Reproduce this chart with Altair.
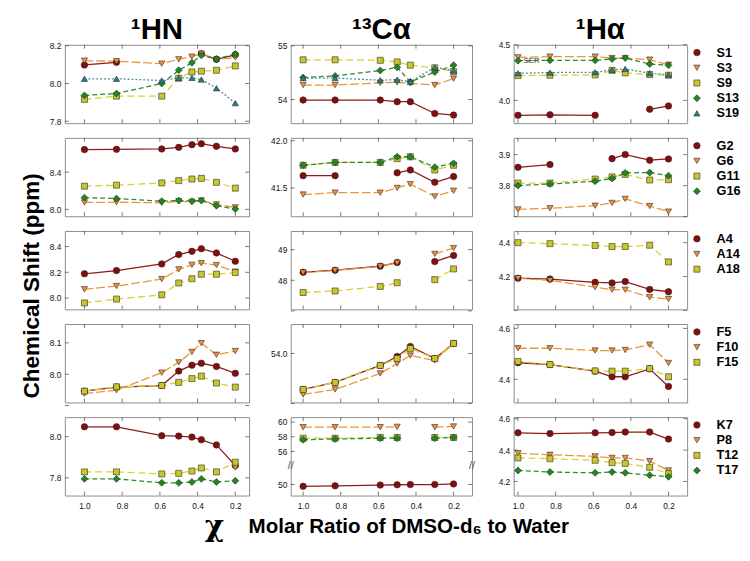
import altair as alt
import pandas as pd

# ---------------- x positions (molar ratio) ----------------
X_HN = [1.0, 0.83, 0.59, 0.50, 0.43, 0.38, 0.30, 0.20]
X_CA = [1.0, 0.83, 0.59, 0.50, 0.43, 0.30, 0.20]
X_HA = [1.0, 0.83, 0.59, 0.50, 0.43, 0.30, 0.20]
X_TICKS = [1.0, 0.8, 0.6, 0.4, 0.2]

# ---------------- Row 1: Ser ----------------
SER = ["S1", "S3", "S9", "S13", "S19"]
HN_SER = [
    [8.098, 8.112, None, None, None, 8.157, 8.128, 8.152],
    [8.121, 8.118, 8.105, 8.128, 8.142, 8.158, 8.126, 8.138],
    [7.916, 7.933, 7.933, 8.028, 8.061, 8.065, 8.070, 8.093],
    [7.937, 7.947, 8.000, 8.070, 8.110, 8.149, 8.130, 8.156],
    [8.025, 8.025, 8.016, 8.030, 8.030, 8.021, 7.975, 7.896],
]
CA_SER = [
    [53.99, 53.99, 53.99, 53.96, 53.96, 53.74, 53.71],
    [54.27, 54.27, 54.31, 54.32, 54.30, 54.27, 54.39],
    [54.74, 54.74, 54.73, 54.70, 54.64, 54.59, 54.52],
    [54.41, 54.44, 54.54, 54.60, 54.33, 54.51, 54.64],
    [54.40, 54.40, 54.36, 54.37, 54.33, 54.60, 54.54],
]
HA_SER = [
    [3.866, 3.870, 3.866, None, None, 3.920, 3.950],
    [4.387, 4.393, 4.393, 4.380, 4.380, 4.366, 4.320],
    [4.223, 4.226, 4.229, 4.270, 4.247, 4.232, 4.226],
    [4.357, 4.360, 4.360, 4.372, 4.380, 4.327, 4.315],
    [4.244, 4.250, 4.253, 4.274, 4.283, 4.244, 4.232],
]

# ---------------- Row 2: Gly ----------------
GLY = ["G2", "G6", "G11", "G16"]
HN_GLY = [
    [8.642, 8.645, 8.649, 8.666, 8.695, 8.705, 8.677, 8.649],
    [8.074, 8.077, 8.070, 8.088, 8.081, 8.095, 8.053, 8.021],
    [8.249, 8.260, 8.284, 8.309, 8.326, 8.333, 8.290, 8.228],
    [8.126, 8.116, 8.088, 8.095, 8.088, 8.095, 8.039, 8.003],
]
CA_GLY = [
    [41.63, 41.63, None, 41.66, 41.69, 41.56, 41.62],
    [41.43, 41.45, 41.45, 41.50, 41.54, 41.41, 41.47],
    [41.74, 41.77, 41.77, 41.81, 41.83, 41.69, 41.74],
    [41.74, 41.77, 41.77, 41.83, 41.83, 41.72, 41.76],
]
HA_GLY = [
    [3.859, 3.868, None, 3.887, 3.900, 3.882, 3.886],
    [3.723, 3.727, 3.735, 3.744, 3.757, 3.734, 3.716],
    [3.808, 3.808, 3.821, 3.828, 3.836, 3.818, 3.819],
    [3.800, 3.805, 3.814, 3.823, 3.841, 3.842, 3.832],
]

# ---------------- Row 3: Ala ----------------
ALA = ["A4", "A14", "A18"]
HN_ALA = [
    [8.188, 8.213, 8.265, 8.338, 8.363, 8.383, 8.350, 8.286],
    [8.068, 8.093, 8.147, 8.223, 8.258, 8.271, 8.256, 8.205],
    [7.962, 7.992, 8.025, 8.117, 8.150, 8.185, 8.185, 8.198],
]
CA_ALA = [
    [48.26, 48.33, 48.46, 48.58, None, 48.61, 48.81],
    [48.25, 48.32, 48.45, 48.57, None, 48.86, 49.05],
    [47.60, 47.65, 47.80, 47.92, None, 48.02, 48.37],
]
HA_ALA = [
    [4.190, 4.185, 4.166, 4.162, 4.170, 4.124, 4.110],
    [4.190, 4.177, 4.137, 4.122, 4.122, 4.078, 4.067],
    [4.400, 4.394, 4.383, 4.377, 4.377, 4.385, 4.286],
]

# ---------------- Row 4: Phe ----------------
PHE = ["F5", "F10", "F15"]
HN_PHE = [
    [7.946, 7.959, 7.964, 8.010, 8.029, 8.035, 8.025, 8.003],
    [7.938, 7.949, 8.005, 8.038, 8.071, 8.099, 8.062, 8.074],
    [7.946, 7.960, 7.964, 7.974, 7.986, 7.994, 7.972, 7.959],
]
CA_PHE = [
    [53.64, 53.71, 53.88, 53.97, 54.07, 53.95, 54.10],
    [53.59, 53.64, 53.80, 53.90, 53.98, 53.93, 54.10],
    [53.64, 53.71, 53.88, 53.95, 54.05, 53.95, 54.10],
]
HA_PHE = [
    [4.465, 4.458, 4.432, 4.410, 4.410, 4.441, 4.372],
    [4.522, 4.522, 4.513, 4.513, 4.515, 4.536, 4.464],
    [4.470, 4.458, 4.433, 4.432, 4.432, 4.442, 4.410],
]

# ---------------- Row 5: Lys / Pro / Thr ----------------
MIX = ["K7", "P8", "T12", "T17"]
HN_MIX = [
    [8.048, 8.048, 8.005, 8.003, 7.998, 7.985, 7.960, 7.860],
    [None, None, None, None, None, None, None, 7.850],
    [7.829, 7.829, 7.819, 7.822, 7.833, 7.848, 7.829, 7.876],
    [7.795, 7.795, 7.776, 7.776, 7.780, 7.795, 7.780, 7.786],
]
CA_MIX = [
    [49.75, 49.82, 49.92, 49.97, 50.00, 50.00, 50.08],
    [59.30, 59.30, 59.30, 59.35, None, 59.30, 59.40],
    [57.80, 57.80, 57.90, 57.90, None, 57.90, 57.90],
    [57.60, 57.70, 57.80, 57.80, None, 57.80, 57.90],
]
HA_MIX = [
    [4.510, 4.505, 4.510, 4.512, 4.515, 4.515, 4.470],
    [4.380, 4.370, 4.360, 4.350, 4.350, 4.330, 4.270],
    [4.350, 4.345, 4.335, 4.320, 4.315, 4.290, 4.250],
    [4.270, 4.260, 4.255, 4.260, 4.255, 4.240, 4.230],
]

ROW_NAMES = [SER, GLY, ALA, PHE, MIX]
ROW_STYLES = [
    ["red", "orange", "yellow", "green", "teal"],
    ["red", "orange", "yellow", "green"],
    ["red", "orange", "yellow"],
    ["red", "orange", "yellow"],
    ["red", "orange", "yellow", "green"],
]
ROW_DATA = [
    [HN_SER, CA_SER, HA_SER],
    [HN_GLY, CA_GLY, HA_GLY],
    [HN_ALA, CA_ALA, HA_ALA],
    [HN_PHE, CA_PHE, HA_PHE],
    [HN_MIX, CA_MIX, HA_MIX],
]
COL_X = [X_HN, X_CA, X_HA]
COL_TITLES = ["\u00b9HN", "\u00b9\u00b3C\u03b1", "\u00b9H\u03b1"]

# y domains / ticks per panel (row, col)
Y_DOMAIN = [
    [[7.79, 8.205], [53.56, 55.02], [3.795, 4.50]],
    [[7.926, 8.768], [41.20, 42.03], [3.701, 3.954]],
    [[7.912, 8.521], [47.05, 49.61], [4.006, 4.469]],
    [[7.910, 8.160], [53.51, 54.294], [4.309, 4.617]],
    [[7.714, 8.095], None, [4.11, 4.61]],
]
Y_TICKS = [
    [[7.8, 8.0, 8.2], [54, 55], [4.0, 4.5]],
    [[8.0, 8.4], [41.5, 42.0], [3.7, 3.8, 3.9]],
    [[8.0, 8.2, 8.4], [47, 48, 49], [4.0, 4.2, 4.4]],
    [[7.9, 8.0, 8.1], [53.5, 54.0], [4.4, 4.6]],
    [[7.8, 8.0], [50, 56, 58, 60], [4.2, 4.4, 4.6]],
]
Y_FMT = [
    [".1f", "d", ".1f"],
    [".1f", ".1f", ".1f"],
    [".1f", "d", ".1f"],
    [".1f", ".1f", ".1f"],
    [".1f", "d", ".1f"],
]
# broken axis for the bottom 13C-alpha panel
BROKEN_DOMAIN = [48.5, 51.0, 55.5, 60.667]
BROKEN_RANGE = [80, 61.25, 38.75, 0]

COL_W = [188, 185, 177]
PANEL_H = 80
X_DOMAIN = [[1.104, 0.127], [1.066, 0.102], [1.023, 0.101]]

STYLE = {
    "red": dict(line="#8b1c1c", fill="#870c0c", shape="circle", dash=None, size=44),
    "orange": dict(line="#ec9538", fill="#f0903a", shape="triangle-down", dash=[9, 3], size=40),
    "yellow": dict(line="#d6d22e", fill="#c9c62a", shape="square", dash=[7, 4], size=38),
    "green": dict(line="#2f8a2f", fill="#1b8a1b", shape="diamond", dash=[5, 3], size=50),
    "teal": dict(line="#4a8f9c", fill="#2a7c88", shape="triangle-up", dash=[2, 2], size=40),
}
FONT = "Liberation Sans"
TICK_LEN = 4
TICK_COLOR = "#555"


def series_frame(xs, ys):
    rows, seg = [], 0
    for x, y in zip(xs, ys):
        if y is None:
            seg += 1
            continue
        rows.append({"x": x, "y": y, "seg": seg})
    return pd.DataFrame(rows)


def label_layer(text, x, y, **kw):
    return alt.Chart(pd.DataFrame({"t": [text]})).mark_text(**kw).encode(
        text="t:N", x=alt.value(x), y=alt.value(y)
    )


panels = []
for r in range(5):
    for c in range(3):
        w = COL_W[c]
        H = PANEL_H
        xs = COL_X[c]
        xenc = alt.X(
            "x:Q",
            scale=alt.Scale(domain=X_DOMAIN[c], nice=False, zero=False),
            axis=alt.Axis(values=X_TICKS, format=".1f", labels=(r == 4), ticks=False,
                          title=None, labelFontSize=8.5, labelPadding=6),
        )
        if r == 4 and c == 1:
            yscale = alt.Scale(domain=BROKEN_DOMAIN, range=BROKEN_RANGE, nice=False, zero=False)
        else:
            yscale = alt.Scale(domain=Y_DOMAIN[r][c], nice=False, zero=False)
        yenc = alt.Y(
            "y:Q", scale=yscale,
            axis=alt.Axis(values=Y_TICKS[r][c], format=Y_FMT[r][c], title=None, ticks=False,
                          labelFontSize=8.5, labelPadding=4),
        )
        # inward, mirrored tick marks
        xt = alt.Chart(pd.DataFrame({"x": X_TICKS}))
        yt = alt.Chart(pd.DataFrame({"y": Y_TICKS[r][c]}))
        tk = dict(color=TICK_COLOR, strokeWidth=0.8)
        ticks = [
            xt.mark_rule(**tk).encode(x=xenc, y=alt.value(0), y2=alt.value(TICK_LEN)),
            xt.mark_rule(**tk).encode(x=xenc, y=alt.value(H - TICK_LEN), y2=alt.value(H)),
            yt.mark_rule(**tk).encode(y=yenc, x=alt.value(0), x2=alt.value(TICK_LEN)),
            yt.mark_rule(**tk).encode(y=yenc, x=alt.value(w - TICK_LEN), x2=alt.value(w)),
        ]
        lines, points = [], []
        for name, style_key, ys in zip(ROW_NAMES[r], ROW_STYLES[r], ROW_DATA[r][c]):
            st = STYLE[style_key]
            df = series_frame(xs, ys)
            base = alt.Chart(df)
            lk = dict(color=st["line"], strokeWidth=1.3)
            if st["dash"]:
                lk["strokeDash"] = st["dash"]
            lines.append(base.mark_line(**lk).encode(x=xenc, y=yenc, detail="seg:N"))
            points.append(base.mark_point(filled=True, shape=st["shape"], size=st["size"],
                                          fill=st["fill"], stroke="#2a2a2a", strokeWidth=0.6,
                                          opacity=1).encode(x=xenc, y=yenc))
        layers = ticks + lines + points
        # column headers
        if r == 0:
            layers.append(label_layer(COL_TITLES[c], w / 2, -6, fontSize=30, fontWeight="bold",
                                      font=FONT, align="center", baseline="alphabetic", color="#000"))
        # legend to the right of the third column
        if c == 2:
            for i, (name, style_key) in enumerate(zip(ROW_NAMES[r], ROW_STYLES[r])):
                st = STYLE[style_key]
                yy = 8 + 15.5 * i
                layers.append(alt.Chart(pd.DataFrame({"n": [name]})).mark_point(
                    filled=True, shape=st["shape"], size=st["size"], fill=st["fill"],
                    stroke="#2a2a2a", strokeWidth=0.6, opacity=1
                ).encode(x=alt.value(w + 10), y=alt.value(yy)))
                layers.append(label_layer(name, w + 30, yy, fontSize=13, fontWeight="bold",
                                          font=FONT, align="left", baseline="middle", color="#000"))
        if r == 0 and c == 2:
            layers.append(label_layer("SER", 10, 17, fontSize=8, font=FONT, align="left",
                                      baseline="middle", color="#444"))
        # y-axis title
        if r == 2 and c == 0:
            layers.append(label_layer("Chemical Shift (ppm)", -33, 56, fontSize=23, fontWeight="bold",
                                      font=FONT, angle=270, align="center", baseline="middle",
                                      color="#000"))
        # x-axis title and axis breaks
        if r == 4 and c == 1:
            layers.append(label_layer("\u03c7", -78, 112, fontSize=30, fontWeight="bold",
                                      font="DejaVu Serif", align="center", baseline="middle",
                                      color="#000"))
            layers.append(label_layer("Molar Ratio of DMSO-d\u2086 to Water", -43, 112, fontSize=21,
                                      fontWeight="bold", font=FONT, align="left",
                                      baseline="middle", color="#000"))
            layers.append(label_layer("//", 0, 50, fontSize=11, font=FONT, align="center",
                                      baseline="middle", color="#555"))
            layers.append(label_layer("//", w, 50, fontSize=11, font=FONT, align="center",
                                      baseline="middle", color="#555"))
        panels.append(alt.layer(*layers).properties(width=w, height=H))

chart = alt.concat(
    *panels, columns=3, spacing={"row": 15, "column": 42.5}, bounds="flush", align="each"
).resolve_scale(x="independent", y="independent").properties(
    padding={"left": 13, "top": 1, "right": 0, "bottom": 0}
).configure_view(stroke="#8a8a8a", strokeWidth=1).configure_axis(
    domain=False, grid=False, labelFont=FONT, labelColor="#111"
)

chart.save("out.html", embed_options={"renderer": "svg", "actions": False})
